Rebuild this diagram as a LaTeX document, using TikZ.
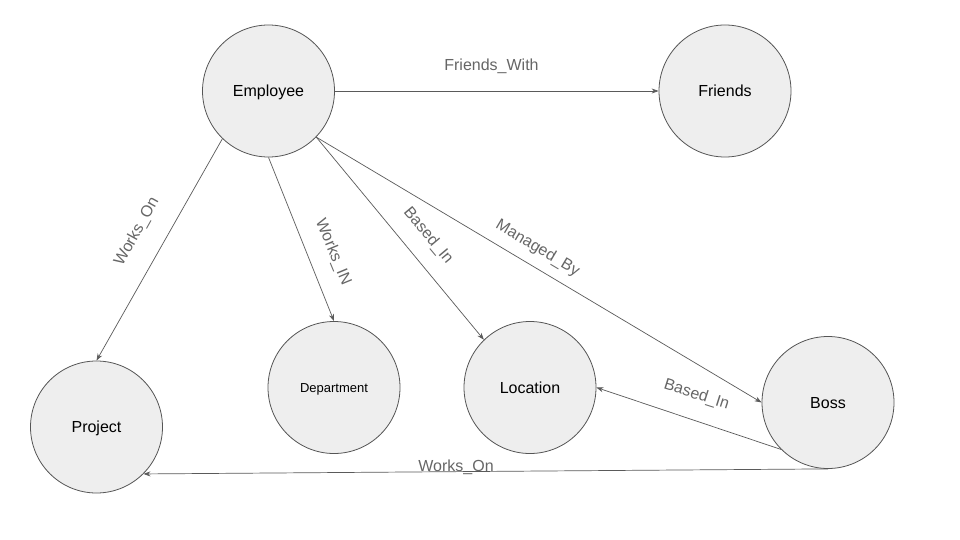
\documentclass[tikz,border=0pt]{standalone}
\usepackage{fontspec}
\setmainfont{Liberation Sans}
\usetikzlibrary{arrows.meta}
\definecolor{nodefill}{HTML}{EEEEEE}
\definecolor{nodeline}{HTML}{555555}
\definecolor{edgeline}{HTML}{5A5A5A}
\definecolor{labeltext}{HTML}{666666}
\tikzset{
  entity/.style={circle, draw=nodeline, fill=nodefill, line width=0.8pt,
    minimum size=132pt, inner sep=0pt, font=\fontsize{16}{18}\selectfont, text=black,
    text height=11.5pt, text depth=0pt},
  smallentity/.style={entity, font=\fontsize{13}{15}\selectfont, text height=9.3pt},
  edge/.style={draw=edgeline, line width=0.7pt, -{Stealth[length=7pt,width=5pt]}},
  elabel/.style={font=\fontsize{16}{18}\selectfont, text=labeltext, inner sep=0pt}
}
\begin{document}
\begin{tikzpicture}[x=1pt,y=-1pt]
\useasboundingbox[fill=white] (0,0) rectangle (960,540);
\node[entity] (emp) at (268.5,91) {Employee};
\node[entity] (fri) at (725,91) {Friends};
\node[entity] (proj) at (96.5,427) {Project};
\node[smallentity] (dept) at (334,387.5) {Department};
\node[entity] (loc) at (530,387.5) {Location};
\node[entity] (boss) at (828,402.5) {Boss};

\draw[edge] (emp.east) -- (fri.west);
\draw[edge] (emp.-134) -- (proj.north);
\draw[edge] (emp.south) -- (dept.north);
\draw[edge] (emp.-44) -- (loc.134);
\draw[edge] (emp.-44) -- (boss.west);
\draw[edge] (boss.225) -- (loc.east);
\draw[edge] (boss.south) -- (proj.-45);

\node[elabel] (lfw) at (491.5,66) {Friends\_With};
\node[elabel, rotate=60.9] (lwo1) at (137,232) {Works\_On};
\node[elabel, rotate=-67.5] (lwi) at (333,252) {Works\_IN};
\node[elabel, rotate=-50] (lbi1) at (428,236) {Based\_In};
\node[elabel, rotate=-30.7] (lmb) at (537.5,248.5) {Managed\_By};
\node[elabel, rotate=-17.7] (lbi2) at (696.5,395) {Based\_In};
\node[elabel] (lwo2) at (456,467) {Works\_On};
\end{tikzpicture}
\end{document}
